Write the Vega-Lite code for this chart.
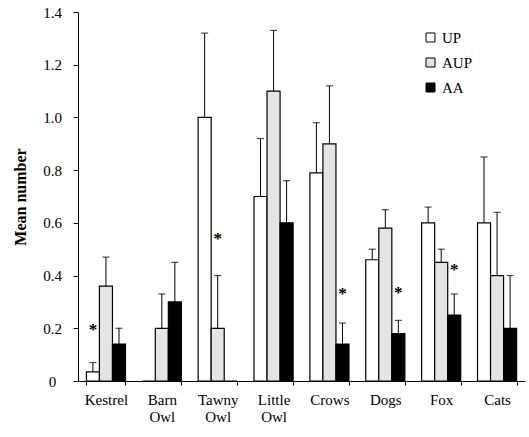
{
  "$schema": "https://vega.github.io/schema/vega-lite/v6.json",
  "width": 447,
  "height": 369,
  "autosize": {"type": "none"},
  "padding": {"left": 78, "top": 12, "right": 4, "bottom": 56},
  "background": "white",
  "config": {
    "view": {"stroke": null},
    "font": "Liberation Serif",
    "text": {"font": "Liberation Serif"},
    "legend": {"labelFont": "Liberation Serif", "labelFontSize": 15, "labelColor": "black"},
    "axis": {"labelFont": "Liberation Serif", "titleFont": "Liberation Serif", "labelColor": "black", "titleColor": "black", "domainColor": "black", "tickColor": "black", "grid": false}
  },
  "datasets": {
    "bars": [
      {"animal": "Kestrel", "group": "UP", "value": 0.035, "err": 0.07},
      {"animal": "Kestrel", "group": "AUP", "value": 0.36, "err": 0.47},
      {"animal": "Kestrel", "group": "AA", "value": 0.14, "err": 0.2},
      {"animal": "Barn Owl", "group": "UP", "value": 0, "err": null},
      {"animal": "Barn Owl", "group": "AUP", "value": 0.2, "err": 0.33},
      {"animal": "Barn Owl", "group": "AA", "value": 0.3, "err": 0.45},
      {"animal": "Tawny Owl", "group": "UP", "value": 1.0, "err": 1.32},
      {"animal": "Tawny Owl", "group": "AUP", "value": 0.2, "err": 0.4},
      {"animal": "Tawny Owl", "group": "AA", "value": 0, "err": null},
      {"animal": "Little Owl", "group": "UP", "value": 0.7, "err": 0.92},
      {"animal": "Little Owl", "group": "AUP", "value": 1.1, "err": 1.33},
      {"animal": "Little Owl", "group": "AA", "value": 0.6, "err": 0.76},
      {"animal": "Crows", "group": "UP", "value": 0.79, "err": 0.98},
      {"animal": "Crows", "group": "AUP", "value": 0.9, "err": 1.12},
      {"animal": "Crows", "group": "AA", "value": 0.14, "err": 0.22},
      {"animal": "Dogs", "group": "UP", "value": 0.46, "err": 0.5},
      {"animal": "Dogs", "group": "AUP", "value": 0.58, "err": 0.65},
      {"animal": "Dogs", "group": "AA", "value": 0.18, "err": 0.23},
      {"animal": "Fox", "group": "UP", "value": 0.6, "err": 0.66},
      {"animal": "Fox", "group": "AUP", "value": 0.45, "err": 0.5},
      {"animal": "Fox", "group": "AA", "value": 0.25, "err": 0.33},
      {"animal": "Cats", "group": "UP", "value": 0.6, "err": 0.85},
      {"animal": "Cats", "group": "AUP", "value": 0.4, "err": 0.64},
      {"animal": "Cats", "group": "AA", "value": 0.2, "err": 0.4}
    ],
    "stars": [
      {"animal": "Kestrel", "group": "UP", "pos": 0.21},
      {"animal": "Tawny Owl", "group": "AUP", "pos": 0.555},
      {"animal": "Crows", "group": "AA", "pos": 0.345},
      {"animal": "Dogs", "group": "AA", "pos": 0.35},
      {"animal": "Fox", "group": "AA", "pos": 0.435}
    ]
  },
  "encoding": {
    "x": {
      "field": "animal", "type": "nominal",
      "sort": ["Kestrel", "Barn Owl", "Tawny Owl", "Little Owl", "Crows", "Dogs", "Fox", "Cats"],
      "scale": {"paddingInner": 0.3, "paddingOuter": 0.15},
      "axis": {"title": null, "labelAngle": 0, "labelFontSize": 15, "labelPadding": 7, "labelLineHeight": 17, "labelExpr": "split(datum.label, ' ')", "tickBand": "extent", "tickSize": 4, "domainWidth": 1}
    },
    "xOffset": {"field": "group", "type": "nominal", "sort": ["UP", "AUP", "AA"], "scale": {"paddingInner": 0, "paddingOuter": 0}}
  },
  "layer": [
    {
      "data": {"name": "bars"},
      "transform": [{"filter": "datum.err != null"}],
      "mark": {"type": "rule", "color": "black", "strokeWidth": 1},
      "encoding": {
        "y": {"field": "value", "type": "quantitative"},
        "y2": {"field": "err"}
      }
    },
    {
      "data": {"name": "bars"},
      "transform": [{"filter": "datum.err != null"}],
      "mark": {"type": "tick", "color": "black", "size": 7, "thickness": 1.2, "orient": "horizontal"},
      "encoding": {
        "y": {"field": "err", "type": "quantitative"}
      }
    },
    {
      "data": {"name": "bars"},
      "mark": {"type": "bar", "stroke": "black", "strokeWidth": 1.2},
      "encoding": {
        "y": {
          "field": "value", "type": "quantitative",
          "scale": {"domain": [0, 1.4]},
          "axis": {"title": "Mean number", "titleFontSize": 16, "titleFontWeight": "bold", "titlePadding": 14, "values": [0, 0.2, 0.4, 0.6, 0.8, 1.0, 1.2, 1.4], "labelExpr": "datum.value == 0 ? '0' : format(datum.value, '.1f')", "labelFontSize": 15, "labelAlign": "center", "labelPadding": 21, "tickSize": 5, "labelBaseline": "middle"}
        },
        "fill": {
          "field": "group", "type": "nominal",
          "scale": {"domain": ["UP", "AUP", "AA"], "range": ["white", "#e4e4e4", "black"]},
          "legend": {"title": null, "orient": "none", "legendX": 345, "legendY": 18, "symbolType": "square", "symbolSize": 81, "symbolStrokeColor": "black", "symbolStrokeWidth": 1, "labelFontSize": 15, "labelFont": "Liberation Serif", "labelColor": "black", "labelOffset": 4, "rowPadding": 9, "padding": 0}
        }
      }
    },
    {
      "data": {"name": "stars"},
      "mark": {"type": "text", "text": "*", "font": "Liberation Serif", "fontSize": 17, "fontWeight": "bold", "color": "black", "baseline": "middle", "dy": 4},
      "encoding": {
        "y": {"field": "pos", "type": "quantitative"}
      }
    }
  ]
}
